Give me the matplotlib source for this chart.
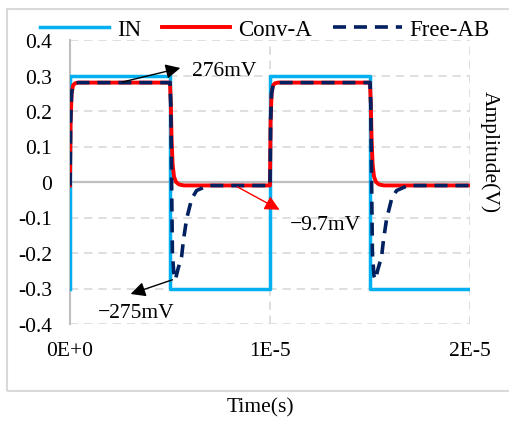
import numpy as np
import matplotlib
matplotlib.use("Agg")
import matplotlib.pyplot as plt
from matplotlib.patches import Rectangle

# time in microseconds
t_in = [0, 0, 5, 5, 10, 10, 15, 15, 20]
v_in = [-0.3, 0.3, 0.3, -0.3, -0.3, 0.3, 0.3, -0.3, -0.3]

t_conv = [0, 0.03, 0.08, 0.15, 0.25, 0.4, 5.0, 5.04, 5.08, 5.13, 5.2, 5.3, 5.45, 5.7,
          10.0, 10.03, 10.08, 10.15, 10.25, 10.4, 15.0, 15.04, 15.08, 15.13, 15.2, 15.3, 15.45, 15.7, 20]
v_conv = [-0.0097, 0.17, 0.25, 0.272, 0.278, 0.28, 0.28, 0.22, 0.12, 0.05, 0.015, 0.0, -0.007, -0.0097,
          -0.0097, 0.17, 0.25, 0.272, 0.278, 0.28, 0.28, 0.22, 0.12, 0.05, 0.015, 0.0, -0.007, -0.0097, -0.0097]

t_free = [0, 0.03, 0.08, 0.15, 0.25, 0.4, 5.0, 5.04, 5.08, 5.12, 5.2, 5.27, 5.4, 5.58, 5.67, 5.83, 6.08, 6.33, 6.9,
          10.0, 10.03, 10.08, 10.15, 10.25, 10.4, 15.0, 15.04, 15.08, 15.12, 15.2, 15.27, 15.4, 15.58, 15.67, 15.83,
          16.08, 16.33, 16.9, 20]
v_free = [-0.01, 0.17, 0.25, 0.272, 0.278, 0.28, 0.28, 0.22, 0.0, -0.2, -0.265, -0.275, -0.245, -0.21, -0.165, -0.104,
          -0.048, -0.024, -0.01,
          -0.01, 0.17, 0.25, 0.272, 0.278, 0.28, 0.28, 0.22, 0.0, -0.2, -0.265, -0.275, -0.245, -0.21, -0.165, -0.104,
          -0.048, -0.024, -0.01, -0.01]

y_ticks = [-0.4, -0.3, -0.2, -0.1, 0, 0.1, 0.2, 0.3, 0.4]
y_labels = ["-0.4", "-0.3", "-0.2", "-0.1", "0", "0.1", "0.2", "0.3", "0.4"]
x_ticks = [0, 1e-5, 2e-5]
x_labels = ["0E+0", "1E-5", "2E-5"]

plt.rcParams["font.family"] = ["Liberation Serif", "DejaVu Serif"]

fig = plt.figure(figsize=(5.1, 4.27), dpi=100)
ax = fig.add_axes([70 / 510, 1 - 325 / 427, 400 / 510, 284 / 427])

fig.patches.append(Rectangle((7 / 510, 1 - 392 / 427), 1.0, 382 / 427, transform=fig.transFigure,
                             fill=False, edgecolor="#D9D9D9", lw=1.5, zorder=0))

# grid
for y in y_ticks:
    if y == 0:
        ax.axhline(0, color="#BFBFBF", lw=1.6, zorder=1)
    else:
        ax.axhline(y, color="#D9D9D9", lw=1.2, ls=(0, (5, 3.5)), zorder=1)
for x in x_ticks[1:]:
    ax.axvline(x, color="#D9D9D9", lw=1.2, ls=(0, (5, 3.5)), zorder=1)

t_in_s = np.array(t_in) * 1e-6
t_conv_s = np.array(t_conv) * 1e-6
t_free_s = np.array(t_free) * 1e-6

ax.plot(t_in_s, v_in, color="#00B0F0", lw=2.5, label="IN", zorder=3)
ax.plot(t_conv_s, v_conv, color="#FF0000", lw=2.8, label="Conv-A", zorder=4)
ax.plot(t_free_s, v_free, color="#002060", lw=2.6, dashes=(3.6, 2.2), label="Free-AB", zorder=5)

ax.set_xlim(0, 2e-5)
ax.set_ylim(-0.4, 0.4)
ax.set_xticks(x_ticks)
ax.set_xticklabels(x_labels)
ax.set_yticks(y_ticks)
ax.set_yticklabels(y_labels)
ax.tick_params(axis="both", length=0, labelsize=15.5)
ax.tick_params(axis="x", pad=12)
ax.tick_params(axis="y", pad=13)
for s in ["top", "right", "bottom"]:
    ax.spines[s].set_visible(False)
ax.spines["left"].set_color("#BFBFBF")
ax.spines["left"].set_linewidth(1.5)

# annotations
ax.annotate("", xy=(5.65e-6, 0.323), xytext=(2.5e-6, 0.28),
            arrowprops=dict(arrowstyle="-|>", color="black", lw=1, mutation_scale=22), zorder=6)
ax.text(6.1e-6, 0.313, "276mV", fontsize=15.5, va="center", ha="left")

ax.annotate("", xy=(10.6e-6, -0.082), xytext=(8.25e-6, -0.01),
            arrowprops=dict(arrowstyle="-|>", color="#FF0000", lw=1, mutation_scale=22), zorder=6)
ax.text(11.0e-6, -0.12, "\u22129.7mV", fontsize=15.5, va="center", ha="left")

ax.annotate("", xy=(2.9e-6, -0.318), xytext=(5.25e-6, -0.273),
            arrowprops=dict(arrowstyle="-|>", color="black", lw=1, mutation_scale=22), zorder=6)
ax.text(1.4e-6, -0.369, "\u2212275mV", fontsize=15.5, va="center", ha="left")

fig.legend(loc="center", bbox_to_anchor=(265 / 510, 1 - 30 / 427), ncol=3, frameon=False,
           fontsize=16.5, handlelength=3.0, handletextpad=0.35, columnspacing=0.9)

fig.text(490 / 510, 1 - 152 / 427, "Amplitude(V)", rotation=270, fontsize=15.5, ha="center", va="center")
fig.text(260 / 510, 1 - 408 / 427, "Time(s)", fontsize=15.5, ha="center", va="center")

fig.savefig("out.png", dpi=100)
